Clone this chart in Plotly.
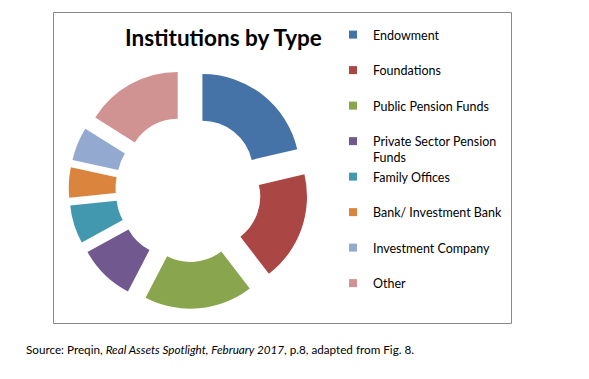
import plotly.graph_objects as go

categories = ["Endowment", "Foundations", "Public Pension Funds",
              "Private Sector Pension Funds", "Family Offices",
              "Bank/ Investment Bank", "Investment Company", "Other"]
shares = [21.4, 18.3, 18.1, 9.4, 6.4, 5.0, 5.6, 16.1]
colors = ["#4572A7", "#AA4643", "#89A54E", "#71588F",
          "#4198AF", "#DB843D", "#93A9CF", "#D19392"]
legend_labels = ["Endowment", "Foundations", "Public Pension Funds",
                 "Private Sector Pension<br>Funds", "Family Offices",
                 "Bank/ Investment Bank", "Investment Company", "Other"]

W, H = 589, 379
FONT = "Lato, 'Open Sans', sans-serif"

fig = go.Figure()
fig.add_trace(go.Pie(
    labels=categories, values=shares, sort=False, direction="clockwise",
    rotation=0, hole=0.52, pull=[0.23] * len(shares),
    marker=dict(colors=colors, line=dict(width=0)),
    textinfo="none", showlegend=False,
    domain=dict(x=[68.7 / W, 308.3 / W], y=[70.2 / H, 309.8 / H]),
))

# legend entries
for lab, col in zip(legend_labels, colors):
    text = lab if "<br>" in lab else lab + "<br> "
    fig.add_trace(go.Scatter(
        x=[None], y=[None], mode="markers", name=text,
        marker=dict(symbol="square", size=8, color=col),
        showlegend=True,
    ))

fig.update_layout(
    width=W, height=H,
    margin=dict(l=0, r=0, t=0, b=0),
    paper_bgcolor="white", plot_bgcolor="white",
    xaxis=dict(visible=False), yaxis=dict(visible=False),
    font=dict(family=FONT, color="#000000"),
    legend=dict(x=333 / W, xanchor="left", y=(H - 20) / H, yanchor="top",
                font=dict(size=12.5, family=FONT, color="#000000"),
                valign="top", itemwidth=30, bgcolor="rgba(0,0,0,0)",
                tracegroupgap=0, traceorder="normal"),
    shapes=[dict(type="rect", xref="paper", yref="paper",
                 x0=53.5 / W, x1=511.5 / W, y0=(H - 323.5) / H, y1=(H - 12.5) / H,
                 line=dict(color="#898989", width=1), fillcolor="rgba(0,0,0,0)",
                 layer="below")],
    annotations=[
        dict(text="<b>Institutions by Type</b>", x=223 / W, y=(H - 37) / H,
             xref="paper", yref="paper", xanchor="center", yanchor="middle",
             showarrow=False, font=dict(size=22.5, family=FONT, color="#000000")),
        dict(text="Source: Preqin, <i>Real Assets Spotlight, February 2017</i>, p.8, adapted from Fig. 8.",
             x=24 / W, y=(H - 349) / H, xref="paper", yref="paper",
             xanchor="left", yanchor="middle", showarrow=False,
             font=dict(size=11.7, family=FONT, color="#000000")),
    ],
)

fig.write_html("out.html", config={"displayModeBar": False},
               post_script="document.body.style.margin='0px';")
